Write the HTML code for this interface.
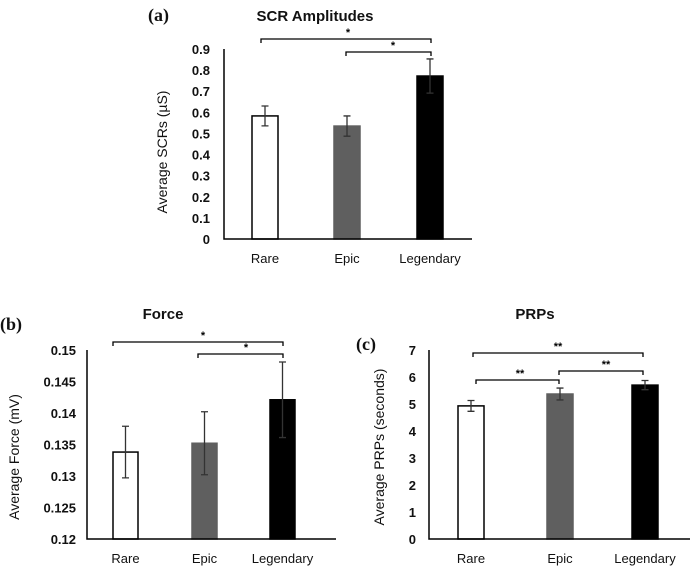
<!DOCTYPE html>
<html><head><meta charset="utf-8"><style>
html,body{margin:0;padding:0;background:#fff;}
svg{display:block;font-family:"Liberation Sans",Arial,sans-serif;}
.tick{font-size:13px;font-weight:bold;fill:#111;}
.cat{font-size:13px;fill:#111;}
.title{font-size:15px;font-weight:bold;fill:#111;}
.panel{font-family:"Liberation Serif",serif;font-size:18px;font-weight:bold;fill:#111;}
.ytitle{font-size:14px;fill:#111;}
</style></head><body>
<svg id="fig" width="691" height="568" viewBox="0 0 691 568"></svg>
<script>
const categories = ["Rare","Epic","Legendary"];
const fills = ["#fff","#5f5f5f","#000"];
// (a) SCR
const scrValues = [0.583,0.535,0.772];
const scrErrors = [0.047,0.048,0.081];
const scrTicks = ["0","0.1","0.2","0.3","0.4","0.5","0.6","0.7","0.8","0.9"];
// (b) Force
const forceValues = [0.1338,0.1352,0.1421];
const forceErrors = [0.0041,0.0050,0.0060];
const forceTicks = ["0.12","0.125","0.13","0.135","0.14","0.145","0.15"];
// (c) PRPs
const prpValues = [4.93,5.37,5.70];
const prpErrors = [0.2,0.22,0.17];
const prpTicks = ["0","1","2","3","4","5","6","7"];

const NS="http://www.w3.org/2000/svg";
const svg=document.getElementById('fig');
function mk(tag,attrs,parent,text){const e=document.createElementNS(NS,tag);for(const k in attrs)e.setAttribute(k,attrs[k]);if(text!==undefined)e.textContent=text;(parent||svg).appendChild(e);return e;}

function chart(cfg){
  const g=mk('g',{});
  
  
  const y=v=>cfg.y0-(v-cfg.vmin)/(cfg.vmax-cfg.vmin)*(cfg.y0-cfg.y1);
  cfg.ticks.forEach(t=>{
    const tx=mk('text',{x:cfg.tickX,y:y(parseFloat(t))+5,'text-anchor':'end',class:'tick'},g,t);
    
    
  });
  cfg.values.forEach((v,i)=>{
    const x=cfg.barX[i];
    const r=mk('rect',{x:x,y:y(v),width:cfg.barW,height:cfg.y0-y(v),fill:fills[i],stroke:i===1?'#5f5f5f':'#000','stroke-width':1.5},g);
    
    
    const cx=x+cfg.barW/2, e=cfg.errors[i];
    const eb=mk('path',{d:`M${cx},${y(v+e)}V${y(v-e)}M${cx-3.5},${y(v+e)}H${cx+3.5}M${cx-3.5},${y(v-e)}H${cx+3.5}`,stroke:'#333','stroke-width':1.3,fill:'none'},g);
    
    
    const c=mk('text',{x:cx,y:cfg.catY,'text-anchor':'middle',class:'cat'},g,categories[i]);
    
    
  });
  const ax=mk('path',{d:`M${cfg.axX},${cfg.y1}V${cfg.y0}H${cfg.axEnd}`,stroke:'#000','stroke-width':1.5,fill:'none'},g);
  
  
  cfg.brackets.forEach(b=>{
    const p=mk('path',{d:`M${b[0]},${b[2]+4}V${b[2]}H${b[1]}V${b[2]+4}`,stroke:'#000','stroke-width':1.3,fill:'none'},g);
    
    
    const s=mk('text',{x:b[4],y:b[2]-3,'text-anchor':'middle','font-size':'11px','font-weight':'bold'},g,b[3]);
    
    
  });
  const t=mk('text',{x:cfg.titleX,y:cfg.titleY,'text-anchor':'middle',class:'title'},g,cfg.title);
  
  
  const pl=mk('text',{x:cfg.panelX,y:cfg.panelY,class:'panel'},g,cfg.panel);
  
  
  const yt=mk('text',{x:0,y:0,'text-anchor':'middle',class:'ytitle',transform:`translate(${cfg.ytX},${cfg.ytY}) rotate(-90)`},g,cfg.ytitle);
  
  
}

chart({name:'scr-chart',values:scrValues,errors:scrErrors,ticks:scrTicks,vmin:0,vmax:0.9,y0:239,y1:49,
  axX:224,axEnd:472,barX:[252,334,417],barW:26,tickX:210,catY:263,
  brackets:[[261,431,39,'*',348],[346,431,52,'*',393]],
  title:'SCR Amplitudes',titleX:315,titleY:21,panel:'(a)',panelX:148,panelY:21,
  ytitle:'Average SCRs (µS)',ytX:167,ytY:152});
chart({name:'force-chart',values:forceValues,errors:forceErrors,ticks:forceTicks,vmin:0.12,vmax:0.15,y0:539,y1:350,
  axX:87,axEnd:336,barX:[113,192,270],barW:25,tickX:76,catY:563,
  brackets:[[113,283,342,'*',203],[198,283,354,'*',246]],
  title:'Force',titleX:163,titleY:319,panel:'(b)',panelX:0,panelY:330,
  ytitle:'Average Force (mV)',ytX:19,ytY:457});
chart({name:'prp-chart',values:prpValues,errors:prpErrors,ticks:prpTicks,vmin:0,vmax:7,y0:539,y1:350,
  axX:429,axEnd:690,barX:[458,547,632],barW:26,tickX:416,catY:563,
  brackets:[[473,643,353,'**',558],[476,559,380,'**',520],[559,643,371,'**',606]],
  title:'PRPs',titleX:535,titleY:319,panel:'(c)',panelX:356,panelY:350,
  ytitle:'Average PRPs (seconds)',ytX:384,ytY:447});
</script>
</body></html>
